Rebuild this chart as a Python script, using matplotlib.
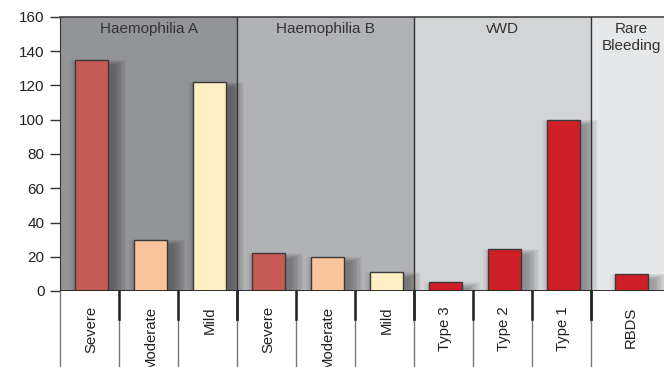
import matplotlib.pyplot as plt
import matplotlib.transforms as mtransforms

# data
categories = ['Severe', 'Moderate', 'Mild', 'Severe', 'Moderate', 'Mild',
              'Type 3', 'Type 2', 'Type 1', 'RBDS']
values = [135, 30, 122, 22, 20, 11, 5, 24.5, 100, 10]
bar_colors = ['#c65a55', '#f9c59c', '#fef0c4', '#c65a55', '#f9c59c', '#fef0c4',
              '#cf1f26', '#cf1f26', '#cf1f26', '#cf1f26']
groups = ['Haemophilia A', 'Haemophilia B', 'vWD', 'Rare\nBleeding']
group_sizes = [3, 3, 3, 1]
group_bg = ['#939497', '#b1b2b5', '#d3d4d6', '#e6e7e8']

plt.rcParams['font.family'] = ['Liberation Sans', 'DejaVu Sans']

fig = plt.figure(figsize=(6.64, 3.67), dpi=100)
ax = fig.add_axes([60 / 664, 76 / 367, 604 / 664, 274 / 367])
ax.set_xlim(0, 604 / 59)
ax.set_ylim(0, 160)

# slot centres, the last group is wider and runs off the page
xs = [i + 0.53 for i in range(len(values))]
xs[-1] = 9.68

# group backgrounds
start = 0
for i, n in enumerate(group_sizes):
    end = start + n if i < len(group_sizes) - 1 else 20
    ax.axvspan(start, end, color=group_bg[i], zorder=0, lw=0)
    cx = start + n / 2 if i < len(group_sizes) - 1 else xs[-1]
    ax.text(cx, 157, groups[i], ha='center', va='top',
            fontsize=11, color='#333333', linespacing=1.3, zorder=5)
    start += n

# soft blurred shadow, offset to the right
for k in range(1, 11):
    ax.bar([x + 0.12 for x in xs], [v - 1.5 + 0.35 * k for v in values],
           width=0.5 + 0.045 * k, bottom=[-2.0] * len(values),
           color='black', alpha=0.035, lw=0, zorder=2)

ax.bar(xs, values, width=0.56, color=bar_colors, edgecolor='#3a3a3a',
       linewidth=1, zorder=3)

# lines below axis separating categories
trans = mtransforms.blended_transform_factory(ax.transData, ax.transAxes)
bounds = [0]
for n in group_sizes:
    bounds.append(bounds[-1] + n)
for b in range(0, 10):
    ax.plot([b, b], [0, -76 / 274], transform=trans, clip_on=False,
            color='#777777', lw=1, zorder=4)
    if b in bounds[1:-1]:
        ax.plot([b, b], [0, -28 / 274], transform=trans, clip_on=False,
                color='#222222', lw=2, zorder=4)
        ax.plot([b, b], [0, 1], transform=trans, color='#333333', lw=1, zorder=4)
    elif b > 0:
        ax.plot([b, b], [0, -28 / 274], transform=trans, clip_on=False,
                color='#222222', lw=1.8, zorder=4)

ax.axhline(0, color='#222222', lw=2, zorder=4)

ax.set_xticks(xs)
ax.set_xticklabels(categories, rotation=90, fontsize=10.7, color='#222222',
                   va='top')
ax.tick_params(axis='x', length=0, pad=11)
ax.set_yticks(range(0, 161, 20))
ax.tick_params(axis='y', labelsize=11, length=7, width=1, color='#333333',
               labelcolor='#222222', pad=4)

for s in ['right', 'bottom']:
    ax.spines[s].set_visible(False)
ax.spines['left'].set_color('#333333')
ax.spines['top'].set_color('#444444')
ax.spines['top'].set_linewidth(1.2)

fig.savefig('out.png', dpi=100)
